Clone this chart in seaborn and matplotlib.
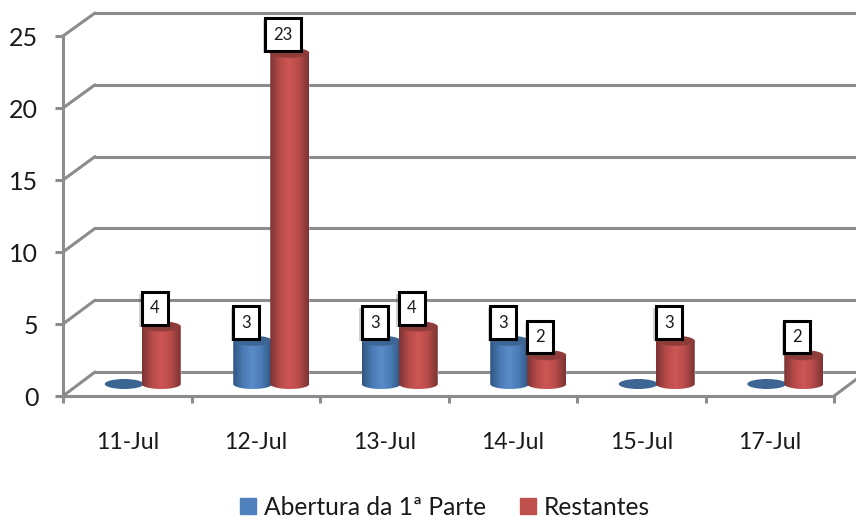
import numpy as np
import pandas as pd
import matplotlib.pyplot as plt
import seaborn as sns
from matplotlib.colors import LinearSegmentedColormap
from matplotlib.patches import ConnectionPatch, Ellipse, Polygon
import matplotlib.patheffects as pe

dias = ['11-Jul', '12-Jul', '13-Jul', '14-Jul', '15-Jul', '17-Jul']
abertura = [0, 3, 3, 3, 0, 0]
restantes = [4, 23, 4, 2, 3, 2]
series = ['Abertura da 1ª Parte', 'Restantes']
yticks = [0, 5, 10, 15, 20, 25]

W, H = 856, 521
GRIS = '#8c8c8c'
AZUL = '#4f81bd'
ROJO = '#c0504d'

sns.set_style('white')
plt.rcParams['font.family'] = ['Lato', 'DejaVu Sans']

df = pd.DataFrame({
    'dia': dias * 2,
    'serie': [series[0]] * 6 + [series[1]] * 6,
    'valor': abertura + restantes,
})


def caja(izq, arriba, der, abajo):
    return [izq / W, 1 - abajo / H, (der - izq) / W, (abajo - arriba) / H]


fig = plt.figure(figsize=(W / 100, H / 100), dpi=100)
ax_fondo = fig.add_axes(caja(95, 13, 866, 372), zorder=0)
ax = fig.add_axes(caja(63, 36, 834, 396), zorder=1)
# 10 px de margen bajo el cero para la base eliptica de los cilindros
ax_barras = fig.add_axes(caja(78.5, 24, 849.5, 394), zorder=2)

for a in (ax_fondo, ax, ax_barras):
    a.patch.set_alpha(0)

# pared del fondo
ax_fondo.set_xlim(-0.5, 5.5)
ax_fondo.set_ylim(0, 25)
ax_fondo.set_yticks(yticks)
ax_fondo.set_xticks([])
ax_fondo.tick_params(left=False, labelleft=False)
sns.despine(ax=ax_fondo, left=True, bottom=True)
ax_fondo.grid(axis='y', color=GRIS, lw=2.2)
for l in ax_fondo.get_ygridlines():
    l.set_clip_on(False)

# ejes delanteros
ax.set_xlim(-0.5, 5.5)
ax.set_ylim(0, 25)
ax.set_yticks(yticks)
ax.set_xticks(range(6), dias)
ax.set_xticks(np.arange(-0.5, 6), minor=True)
ax.tick_params(axis='y', length=5.8, width=2.2, color=GRIS, pad=12, labelsize=18, left=True, labelcolor='#1a1a1a')
ax.tick_params(axis='x', which='major', length=0, pad=26, labelsize=16.6, labelcolor='#1a1a1a')
ax.tick_params(axis='x', which='minor', length=5, width=2.2, color=GRIS, bottom=True)
sns.despine(ax=ax)
for lado in ('left', 'bottom'):
    ax.spines[lado].set_color(GRIS)
    ax.spines[lado].set_linewidth(2.2)

# diagonales de la pared lateral y del suelo
for v in yticks:
    fig.add_artist(ConnectionPatch((-0.5, v), (-0.5, v), ax.transData, ax_fondo.transData,
                                   color=GRIS, lw=2.2, zorder=0.5))
fig.add_artist(ConnectionPatch((5.5, 0), (5.5, 0), ax.transData, ax_fondo.transData,
                               color=GRIS, lw=2.2, zorder=0.5))

# barras
sns.barplot(data=df, x='dia', y='valor', hue='serie', order=dias, hue_order=series,
            palette=[AZUL, ROJO], width=0.576, legend=False, ax=ax_barras)
ax_barras.set_axis_off()

estilos = [
    {'cmap': ['#2f5681', '#4a7ab4', '#5a8cc8', '#4a7ab4', '#2f5681'], 'tapa': '#3c6594'},
    {'cmap': ['#7d3433', '#b54b49', '#cf5654', '#b54b49', '#7d3433'], 'tapa': '#8d3c3a'},
]
ancho = 39 / (771 / 6)
radio_y = 5 / 14.4

for n, (cont, est) in enumerate(zip(ax_barras.containers, estilos)):
    cmap = LinearSegmentedColormap.from_list('cil', est['cmap'])
    grad = np.linspace(0, 1, 64).reshape(1, -1)
    for p in cont:
        v = p.get_height()
        cx = p.get_x() + p.get_width() / 2
        z = 3 + n
        if v > 0:
            t = np.linspace(np.pi, 2 * np.pi, 40)
            xs = cx + ancho / 2 * np.cos(t)
            ys = radio_y * np.sin(t)
            contorno = np.column_stack([np.r_[xs, cx + ancho / 2, cx - ancho / 2],
                                        np.r_[ys, v, v]])
            im = ax_barras.imshow(grad, cmap=cmap, aspect='auto', zorder=z,
                                  extent=(cx - ancho / 2, cx + ancho / 2, -radio_y, v))
            im.set_clip_path(Polygon(contorno, transform=ax_barras.transData))
        ax_barras.add_patch(Ellipse((cx, v), ancho, 2 * radio_y, color=est['tapa'], lw=0, zorder=z + 0.1))
        if v > 0:
            txt = ax_barras.annotate(f'{v:.0f}', (cx, v), xytext=(-4.7, 13), textcoords='offset points',
                                     ha='center', va='center', fontsize=12, color='#1a1a1a', zorder=10,
                                     bbox=dict(boxstyle='square,pad=0.5', fc='white', ec='black', lw=2.2))
            txt.get_bbox_patch().set_path_effects([
                pe.SimplePatchShadow(offset=(-1.5, -1.5), alpha=0.25), pe.Normal()])

ax_barras.set_xlim(-0.5, 5.5)
ax_barras.set_ylim(-10 / 14.4, 25)

# leyenda
h = [plt.Rectangle((0, 0), 1, 1, color=AZUL), plt.Rectangle((0, 0), 1, 1, color=ROJO)]
fig.legend(h, series, loc='lower center', bbox_to_anchor=(0.52, -0.038), ncol=2, frameon=False,
           fontsize=17.7, handlelength=0.65, handleheight=0.65, handletextpad=0.3, columnspacing=1.4,
           labelcolor='#1a1a1a')

fig.savefig('out.png', dpi=100)
